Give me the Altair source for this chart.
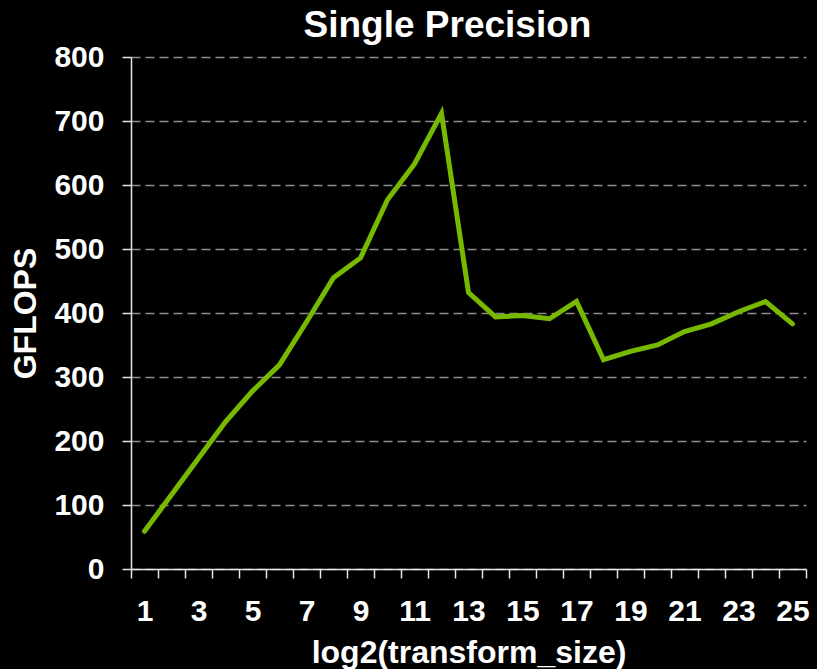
import altair as alt
import pandas as pd

sizes = list(range(1, 26))
gflops = [59, 116, 173, 230, 278, 319, 386, 455, 486, 577, 633, 712,
          432, 394, 396, 391, 418, 327, 340, 350, 371, 383, 402, 418, 383]
y_ticks = [0, 100, 200, 300, 400, 500, 600, 700, 800]

df = pd.DataFrame({"size": sizes, "gflops": gflops})

FONT = "Liberation Sans"

chart = alt.Chart(df).mark_line(
    color="#76b900", strokeWidth=5, strokeCap="round"
).encode(
    x=alt.X(
        "size:O",
        scale=alt.Scale(paddingInner=0, paddingOuter=0),
        axis=alt.Axis(
            title="log2(transform_size)",
            labelAngle=0,
            labelExpr="datum.value % 2 == 1 ? datum.label : ''",
            labelOverlap=False,
            tickBand="extent",
            tickSize=9,
            labelPadding=18,
            titlePadding=11,
            grid=False,
            domainColor="#e6e6e6",
            domainWidth=1.5,
            tickColor="#e6e6e6",
            tickWidth=1.5,
            labelColor="white",
            labelFont=FONT,
            labelFontSize=30,
            labelFontWeight="bold",
            titleColor="white",
            titleFont=FONT,
            titleFontSize=32,
            titleFontWeight="bold",
        ),
    ),
    y=alt.Y(
        "gflops:Q",
        scale=alt.Scale(domain=[0, 800], nice=False),
        axis=alt.Axis(
            values=y_ticks,
            title="GFLOPS",
            tickSize=9,
            labelPadding=18,
            titlePadding=11,
            grid=True,
            gridDash=[9, 5],
            gridColor="#8c8c8c",
            gridWidth=1.5,
            domainColor="#e6e6e6",
            domainWidth=1.5,
            tickColor="#e6e6e6",
            tickWidth=1.5,
            labelColor="white",
            labelFont=FONT,
            labelFontSize=30,
            labelFontWeight="bold",
            titleColor="white",
            titleFont=FONT,
            titleFontSize=32,
            titleFontWeight="bold",
        ),
    ),
).properties(
    width=675,
    height=512,
    title=alt.TitleParams(
        "Single Precision",
        color="white",
        font=FONT,
        fontSize=37,
        fontWeight="bold",
        anchor="middle",
        dx=-21,
        dy=7,
    ),
    padding={"left": 131, "top": 57, "right": 11, "bottom": 100},
    autosize=alt.AutoSizeParams(type="none"),
    background="black",
).configure_view(stroke=None)

chart.save("out.html", embed_options={"renderer": "svg", "actions": False,
                                      "defaultStyle": "html,body{background:#000;margin:0;overflow:hidden;}"})
